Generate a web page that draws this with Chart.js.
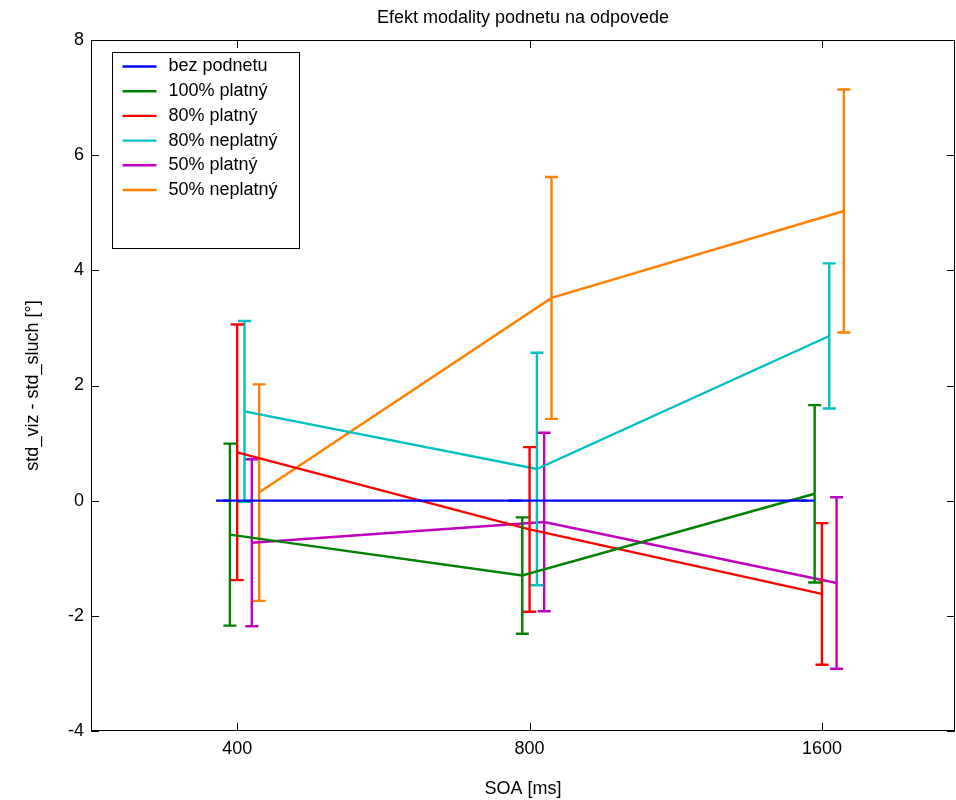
<!DOCTYPE html>
<html>
<head>
<meta charset="utf-8">
<title>Efekt modality podnetu na odpovede</title>
<script src="https://cdn.jsdelivr.net/npm/chart.js@4.4.0/dist/chart.umd.min.js"></script>
<style>
    html, body { margin: 0; padding: 0; background: #fff; }
    #wrap { width: 956px; height: 800px; }
</style>
</head>
<body>
<div id="wrap"><canvas id="errChart" width="956" height="800"></canvas></div>
<script>
// x categories (SOA) and y ticks
var soaLabels = ["400", "800", "1600"];
var yTicks = [-4, -2, 0, 2, 4, 6, 8];

// series names as in the legend
var seriesNames = ["bez podnetu", "100% platný", "80% platný", "80% neplatný", "50% platný", "50% neplatný"];

// means and +/- errors
var bezPodnetuMean = [0, 0, 0];
var bezPodnetuErr = [0, 0, 0];
var platny100Mean = [-0.59, -1.30, 0.12];
var platny100Err = [1.58, 1.01, 1.54];
var platny80Mean = [0.84, -0.50, -1.62];
var platny80Err = [2.22, 1.43, 1.23];
var neplatny80Mean = [1.55, 0.55, 2.86];
var neplatny80Err = [1.57, 2.02, 1.26];
var platny50Mean = [-0.73, -0.37, -1.43];
var platny50Err = [1.45, 1.55, 1.49];
var neplatny50Mean = [0.14, 3.52, 5.03];
var neplatny50Err = [1.88, 2.10, 2.11];

var seriesColors = ["#0000ff", "#008000", "#ff0000", "#00bfbf", "#bf00bf", "#ff8000"];
// small horizontal shift of each series so the bars don't overlap
var seriesShift = [-0.05, -0.025, 0, 0.025, 0.05, 0.075];

var means = [bezPodnetuMean, platny100Mean, platny80Mean, neplatny80Mean, platny50Mean, neplatny50Mean];
var errs = [bezPodnetuErr, platny100Err, platny80Err, neplatny80Err, platny50Err, neplatny50Err];

var FONT = "'Liberation Sans', Arial, sans-serif";
Chart.defaults.font.family = FONT;
Chart.defaults.color = "#000";

var datasets = seriesNames.map(function (name, s) {
    return {
        label: name,
        data: means[s].map(function (v, i) {
            return { x: i + 1 + seriesShift[s], y: v };
        }),
        errors: errs[s],
        borderColor: seriesColors[s],
        backgroundColor: seriesColors[s],
        borderWidth: 2.4,
        pointRadius: 0,
        tension: 0,
        fill: false,
    };
});

// vertical error bars with tees, drawn together with each line
var errorBars = {
    id: "errorBars",
    afterDatasetDraw: function (chart, args) {
        var ds = chart.data.datasets[args.index];
        var xs = chart.scales.x, ys = chart.scales.y;
        var ctx = chart.ctx;
        var tee = 6.5;
        ctx.save();
        ctx.strokeStyle = ds.borderColor;
        ctx.lineWidth = 2.4;
        ds.data.forEach(function (p, i) {
            var x = xs.getPixelForValue(p.x);
            var top = ys.getPixelForValue(p.y + ds.errors[i]);
            var bot = ys.getPixelForValue(p.y - ds.errors[i]);
            ctx.beginPath();
            ctx.moveTo(x, top);
            ctx.lineTo(x, bot);
            ctx.moveTo(x - tee, top);
            ctx.lineTo(x + tee, top);
            ctx.moveTo(x - tee, bot);
            ctx.lineTo(x + tee, bot);
            ctx.stroke();
        });
        ctx.restore();
    },
};

// box around the axes with inward ticks, and the boxed legend
var axesBox = {
    id: "axesBox",
    afterDraw: function (chart) {
        var ctx = chart.ctx, a = chart.chartArea;
        var xs = chart.scales.x, ys = chart.scales.y;
        var tl = 8;
        ctx.save();
        ctx.strokeStyle = "#000";
        ctx.lineWidth = 1;
        ctx.strokeRect(a.left + 0.5, a.top + 0.5, a.right - a.left - 1, a.bottom - a.top - 1);
        ctx.beginPath();
        yTicks.forEach(function (v) {
            var y = Math.round(ys.getPixelForValue(v)) + 0.5;
            ctx.moveTo(a.left, y);
            ctx.lineTo(a.left + tl, y);
            ctx.moveTo(a.right, y);
            ctx.lineTo(a.right - tl, y);
        });
        soaLabels.forEach(function (l, i) {
            var x = Math.round(xs.getPixelForValue(i + 1)) + 0.5;
            ctx.moveTo(x, a.bottom);
            ctx.lineTo(x, a.bottom - tl);
            ctx.moveTo(x, a.top);
            ctx.lineTo(x, a.top + tl);
        });
        ctx.stroke();

        // legend
        var bx = a.left + 21.5, by = a.top + 12.5, bw = 187, bh = 196;
        ctx.fillStyle = "#fff";
        ctx.fillRect(bx, by, bw, bh);
        ctx.strokeRect(bx, by, bw, bh);
        ctx.font = "18px " + FONT;
        ctx.textBaseline = "middle";
        ctx.textAlign = "left";
        chart.data.datasets.forEach(function (ds, i) {
            var y = by + 14 + i * 24.7;
            ctx.strokeStyle = ds.borderColor;
            ctx.lineWidth = 2.4;
            ctx.beginPath();
            ctx.moveTo(bx + 10, y);
            ctx.lineTo(bx + 44, y);
            ctx.stroke();
            ctx.fillStyle = "#000";
            ctx.fillText(ds.label, bx + 56, y);
        });
        ctx.restore();
    },
};

var config = {
    type: "line",
    data: { datasets: datasets },
    options: {
        responsive: false,
        animation: false,
        devicePixelRatio: 1,
        layout: { padding: { left: 0, right: 1, top: 0, bottom: 0 } },
        plugins: {
            legend: { display: false },
            tooltip: { enabled: false },
            title: {
                display: true,
                fullSize: false,
                text: "Efekt modality podnetu na odpovede",
                color: "#000",
                font: { size: 18, weight: "normal" },
                padding: { top: 7, bottom: 11.4 },
            },
        },
        scales: {
            x: {
                type: "linear",
                min: 0.5,
                max: 3.455,
                afterBuildTicks: function (scale) {
                    scale.ticks = soaLabels.map(function (l, i) {
                        return { value: i + 1 };
                    });
                },
                afterFit: function (scale) {
                    scale.height = 69;
                },
                ticks: {
                    callback: function (v) {
                        return soaLabels[Math.round(v) - 1];
                    },
                    autoSkip: false,
                    maxRotation: 0,
                    padding: 7,
                    color: "#000",
                    font: { size: 18 },
                },
                grid: { display: false, drawTicks: false },
                border: { display: false },
                title: {
                    display: true,
                    text: "SOA [ms]",
                    color: "#000",
                    font: { size: 18 },
                    padding: { top: 0, bottom: 0 },
                },
            },
            y: {
                min: -4,
                max: 8,
                afterBuildTicks: function (scale) {
                    scale.ticks = yTicks.map(function (v) {
                        return { value: v };
                    });
                },
                afterFit: function (scale) {
                    scale.width = 91;
                },
                ticks: {
                    padding: 7,
                    color: "#000",
                    font: { size: 18 },
                },
                grid: { display: false, drawTicks: false },
                border: { display: false },
                title: {
                    display: true,
                    text: "std_viz - std_sluch [°]",
                    color: "#000",
                    font: { size: 18 },
                    padding: { top: 22, bottom: 0 },
                },
            },
        },
    },
    plugins: [errorBars, axesBox],
};

var errChart = new Chart(document.getElementById("errChart").getContext("2d"), config);
</script>
</body>
</html>
